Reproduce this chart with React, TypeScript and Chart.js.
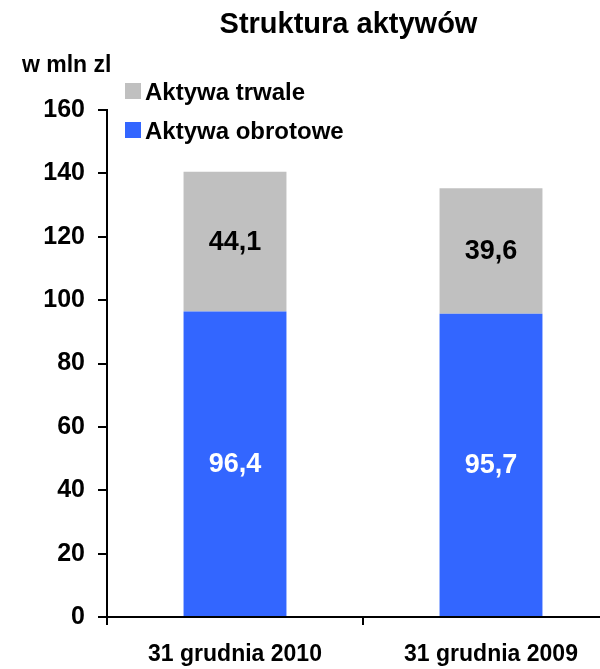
import React, { useEffect, useRef } from "react";
import { Chart, registerables } from "chart.js";

Chart.register(...registerables);

const titleText = "Struktura aktywów";
const unitText = "w mln zl";
const categories = ["31 grudnia 2010", "31 grudnia 2009"];
const seriesNames = ["Aktywa obrotowe", "Aktywa trwale"];
const aktywaObrotowe = [96.4, 95.7];
const aktywaTrwale = [44.1, 39.6];
const yMin = 0;
const yMax = 160;
const yStep = 20;

const FONT = '"Liberation Sans", Arial, Helvetica, sans-serif';

const fmt = (v: number) => v.toFixed(1).replace(".", ",");

const overlayPlugin = {
  id: "overlay",
  afterDraw(chart: any) {
    const ctx = chart.ctx;
    ctx.save();
    // title
    ctx.fillStyle = "#000";
    ctx.font = `bold 29px ${FONT}`;
    ctx.textAlign = "center";
    ctx.textBaseline = "alphabetic";
    ctx.fillText(titleText, 348.5, 33);
    // unit
    ctx.font = `bold 23px ${FONT}`;
    ctx.textAlign = "left";
    ctx.fillText(unitText, 22, 72);
    // legend (reverse order, top dataset first)
    const ds = chart.data.datasets;
    const rows = [
      { i: ds.length - 1, base: 100 },
      { i: 0, base: 139 },
    ];
    ctx.font = `bold 24px ${FONT}`;
    rows.forEach((r) => {
      const d = ds[r.i];
      ctx.fillStyle = d.backgroundColor;
      ctx.fillRect(125, r.base - 17, 16, 16);
      ctx.fillStyle = "#000";
      ctx.fillText(d.label, 145, r.base);
    });
    // data labels
    ctx.textAlign = "center";
    ctx.textBaseline = "middle";
    ctx.font = `bold 27px ${FONT}`;
    ds.forEach((d: any, di: number) => {
      const meta = chart.getDatasetMeta(di);
      meta.data.forEach((bar: any, j: number) => {
        const cy = (bar.y + bar.base) / 2;
        ctx.fillStyle = di === 0 ? "#FFFFFF" : "#000000";
        ctx.fillText(fmt(d.data[j]), bar.x, cy + 1);
      });
    });
    ctx.restore();
  },
};

export default function App() {
  const ref = useRef<HTMLCanvasElement | null>(null);
  useEffect(() => {
    if (!ref.current) return;
    const chart = new Chart(ref.current, {
      type: "bar",
      data: {
        labels: categories,
        datasets: [
          {
            label: seriesNames[0],
            data: aktywaObrotowe,
            backgroundColor: "#3366FF",
            borderWidth: 0,
            categoryPercentage: 1,
            barPercentage: 0.402,
          },
          {
            label: seriesNames[1],
            data: aktywaTrwale,
            backgroundColor: "#C0C0C0",
            borderWidth: 0,
            categoryPercentage: 1,
            barPercentage: 0.402,
          },
        ],
      },
      options: {
        responsive: false,
        animation: false,
        devicePixelRatio: 1,
        layout: { padding: { top: 110, left: 0, right: 1, bottom: 0 } },
        plugins: {
          legend: { display: false },
          title: { display: false },
          tooltip: { enabled: false },
        },
        scales: {
          x: {
            stacked: true,
            grid: {
              offset: true,
              drawOnChartArea: false,
              drawTicks: true,
              tickLength: 8,
              color: "#000",
              lineWidth: 2,
            },
            border: { color: "#000", width: 2 },
            ticks: {
              color: "#000",
              padding: 16,
              font: { family: FONT, size: 23, weight: "bold" },
              maxRotation: 0,
            },
            afterFit: (s: any) => {
              s.height = 52;
            },
          },
          y: {
            stacked: true,
            min: yMin,
            max: yMax,
            grid: {
              drawOnChartArea: false,
              drawTicks: true,
              tickLength: 9,
              color: "#000",
              lineWidth: 2,
            },
            border: { color: "#000", width: 2 },
            ticks: {
              stepSize: yStep,
              color: "#000",
              padding: 13,
              font: { family: FONT, size: 25, weight: "bold" },
            },
            afterFit: (s: any) => {
              s.width = 107;
            },
          },
        },
      },
      plugins: [overlayPlugin],
    } as any);
    return () => chart.destroy();
  }, []);
  return (
    <div
      style={{
        position: "absolute",
        left: 0,
        top: 0,
        width: 600,
        height: 669,
        overflow: "hidden",
        background: "#fff",
      }}
    >
      <canvas
        ref={ref}
        width={620}
        height={669}
        style={{ width: 620, height: 669, display: "block" }}
      />
    </div>
  );
}
